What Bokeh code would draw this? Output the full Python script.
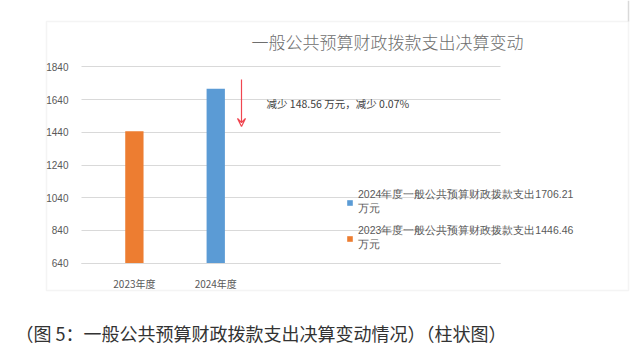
from bokeh.plotting import figure
from bokeh.models import (Range1d, FixedTicker, Label, BoxAnnotation, Arrow, VeeHead,
                          Legend, LegendItem, LinearAxis, Grid)
from bokeh.embed import file_html
from bokeh.resources import INLINE

# ---- data ----
categories = ["2023年度", "2024年度"]
values = [1446.46, 1706.21]
bar_colors = ["#ED7D31", "#5B9BD5"]
y_ticks = [640, 840, 1040, 1240, 1440, 1640, 1840]
legend_labels = ["2024年度一般公共预算财政拨款支出1706.21\n万元",
                 "2023年度一般公共预算财政拨款支出1446.46\n万元"]
title_text = "一般公共预算财政拨款支出决算变动"
note_text = "减少 148.56 万元，减少 0.07%"
caption_text = "（图 5：一般公共预算财政拨款支出决算变动情况）（柱状图）"

CJK = "Noto Sans CJK SC"
GRID = "#d9d9d9"
TXT = "#595959"

W, H = 630, 345          # canvas size; canvas starts at page (8, 8)
# plot area (page pixels) and its value extent
FL, FR, FT, FB = 89, 508, 74.3, 270.7
X0, X1 = -0.65, 4.5
Y0, Y1 = 640, 1840


def dx(px):
    return X0 + (px - FL) / (FR - FL) * (X1 - X0)


def dy(py):
    return Y0 + (FB - py) / (FB - FT) * (Y1 - Y0)


p = figure(width=W, height=H, output_backend="svg", toolbar_location=None,
           x_range=Range1d(dx(8), dx(8 + W)), y_range=Range1d(dy(8 + H), dy(8)),
           x_axis_location=None, y_axis_location=None,
           min_border=0, title=None)
p.outline_line_color = None
p.background_fill_color = "white"
p.border_fill_color = "white"
for g in list(p.xgrid) + list(p.ygrid):
    g.visible = False

# horizontal gridlines limited to the plot area
ygrid = Grid(dimension=1, ticker=FixedTicker(ticks=y_ticks), grid_line_color=GRID,
             grid_line_width=1.2, level="underlay")
try:
    ygrid.cross_bounds = (X0, X1)
    p.add_layout(ygrid)
except Exception:
    p.segment(x0=X0, x1=X1, y0=y_ticks, y1=y_ticks, line_color=GRID, line_width=1.2,
              level="underlay")

# bars
xs = list(range(len(categories)))
r = p.vbar(x=xs, top=values, bottom=Y0, width=0.225, color=bar_colors, line_color=None)

# axes (fixed inside the canvas)
xaxis = LinearAxis(ticker=FixedTicker(ticks=xs), fixed_location=Y0, bounds=(X0, X1),
                   major_label_overrides={i: c for i, c in enumerate(categories)},
                   axis_line_color=GRID, axis_line_width=1.2,
                   major_tick_line_color=None, minor_tick_line_color=None,
                   major_label_text_font=CJK, major_label_text_font_size="10px",
                   major_label_text_color=TXT, major_label_standoff=7)
p.add_layout(xaxis, "below")

yaxis = LinearAxis(ticker=FixedTicker(ticks=y_ticks), fixed_location=X0, bounds=(Y0, Y1),
                   axis_line_color=None, major_tick_line_color=None,
                   minor_tick_line_color=None,
                   major_label_text_font="Liberation Sans", major_label_text_font_size="10px",
                   major_label_text_color=TXT, major_label_standoff=7)
p.add_layout(yaxis, "left")

# outer chart box
p.add_layout(BoxAnnotation(left=dx(54), right=dx(636), top=dy(29), bottom=dy(298),
                           fill_alpha=0, line_color=GRID, line_width=1.5, level="underlay"))
p.add_layout(Arrow(x_start=dx(636), y_start=dy(8), x_end=dx(636), y_end=dy(29),
                   end=None, line_color=GRID, line_width=1.5))

# title
p.add_layout(Label(x=dx(395), y=dy(49), text=title_text, text_font="Noto Sans CJK SC Light",
                   text_font_size="17px", text_color="#6e6e6e", text_align="center",
                   text_baseline="middle"))

# red arrow + note
p.add_layout(Arrow(x_start=dx(249), y_start=dy(87), x_end=dx(249), y_end=dy(134),
                   line_color="#F04650", line_width=1.2,
                   end=VeeHead(size=8, line_color="#F04650", line_width=1.2,
                               fill_alpha=0)))
p.add_layout(Label(x=dx(274), y=dy(111), text=note_text, text_font=CJK,
                   text_font_size="10.5px", text_color="#404040", text_baseline="middle"))

# legend
legend = Legend(items=[LegendItem(label=legend_labels[0], renderers=[r], index=1),
                       LegendItem(label=legend_labels[1], renderers=[r], index=0)],
                location=(346, 93), glyph_width=7, glyph_height=7,
                label_text_font="Liberation Sans", label_text_font_size="10.5px",
                label_text_color=TXT, label_height=10, spacing=8, padding=0, margin=0,
                border_line_color=None, background_fill_alpha=0, label_standoff=5)
p.add_layout(legend)

# caption
p.add_layout(Label(x=dx(23), y=dy(340), text=caption_text, text_font=CJK,
                   text_font_size="18px", text_color="#333333", text_baseline="middle"))

open("out.html", "w").write(file_html(p, INLINE))
